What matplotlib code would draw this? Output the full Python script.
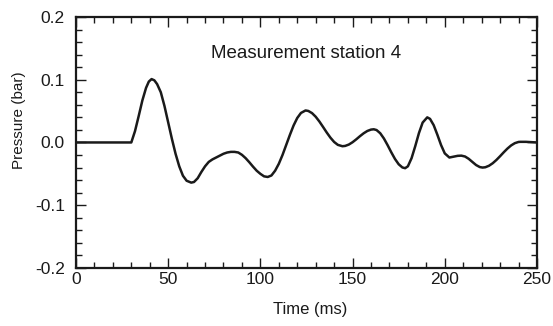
import matplotlib
matplotlib.use("Agg")
import matplotlib.pyplot as plt
from matplotlib.ticker import MultipleLocator, FormatStrFormatter

plt.rcParams['font.family'] = ['Liberation Sans', 'DejaVu Sans']
plt.rcParams['axes.unicode_minus'] = False

time_ms = [0, 10, 20, 30, 32, 34, 36, 38, 39.5, 41, 42.5, 44, 46, 48, 50, 52, 54, 56, 58, 60, 62.5,
           64, 66, 68, 70, 72, 74, 76, 78, 80, 82, 84, 86, 88, 90, 92, 94, 96, 98, 100, 102, 104,
           106, 108, 110, 112, 114, 116, 118, 120, 122, 124.5, 126, 128, 130, 132, 134, 136, 138,
           140, 142, 144.5, 146, 148, 150, 152, 154, 156, 158, 160, 161.5, 163, 165, 167, 169, 171,
           173, 175, 177, 178.5, 180, 182, 184, 186, 188, 190.5, 192, 194, 196, 198, 200, 202.5,
           205, 207, 209, 211, 213, 215, 217, 219, 220.5, 222, 224, 226, 228, 230, 232, 234, 236,
           238, 240, 241, 244, 247, 250]
pressure_bar = [0, 0, 0, 0, 0.018, 0.042, 0.067, 0.087, 0.097, 0.101, 0.099, 0.093, 0.08, 0.058, 0.032,
                0.006, -0.018, -0.038, -0.053, -0.061, -0.064,
                -0.063, -0.057, -0.047, -0.038, -0.031, -0.027, -0.024, -0.021, -0.018, -0.016,
                -0.015, -0.015, -0.016, -0.0197, -0.025, -0.0315, -0.0385, -0.045, -0.05, -0.054,
                -0.055, -0.0526, -0.045, -0.034, -0.02, -0.004, 0.012, 0.027, 0.039, 0.047, 0.051,
                0.0502, 0.0468, 0.041, 0.0334, 0.0247, 0.0158, 0.0076, 0.0008, -0.0038, -0.006,
                -0.0055, -0.0033, 0.0004, 0.005, 0.01, 0.0146, 0.0183, 0.0205, 0.021, 0.0198,
                0.0147, 0.0063, -0.0043, -0.0157, -0.0263, -0.0347, -0.0398, -0.041, -0.038,
                -0.025, -0.0058, 0.015, 0.0317, 0.04, 0.0376, 0.0275, 0.0122, -0.0042, -0.0174,
                -0.024, -0.0225, -0.0213, -0.021, -0.0224, -0.0261, -0.0311, -0.036, -0.0392,
                -0.04, -0.0395, -0.0371, -0.0331, -0.0279, -0.0219, -0.0156, -0.0097, -0.0047,
                -0.0011, 0.0008, 0.001, 0.001, 0.0005, 0.0]

x_label = "Time (ms)"
y_label = "Pressure (bar)"
annotation = "Measurement station 4"

fig = plt.figure(figsize=(5.53, 3.26), dpi=100)
ax = fig.add_axes([0.1374, 0.178, 0.8336, 0.770])
ax.plot(time_ms, pressure_bar, color='#1a1a1a', lw=1.8, solid_joinstyle='round')
ax.set_xlim(0, 250)
ax.set_ylim(-0.2, 0.2)
ax.xaxis.set_major_locator(MultipleLocator(50))
ax.xaxis.set_minor_locator(MultipleLocator(10))
ax.yaxis.set_major_locator(MultipleLocator(0.1))
ax.yaxis.set_minor_locator(MultipleLocator(0.02))
ax.yaxis.set_major_formatter(FormatStrFormatter('%.1f'))
ax.tick_params(which='both', direction='in', top=True, right=True, colors='#1a1a1a', labelsize=12.5)
ax.tick_params(which='major', length=7, width=1.0)
ax.tick_params(which='minor', length=4, width=1.0)
ax.tick_params(axis='x', which='major', pad=3)
ax.tick_params(axis='y', which='major', pad=8)
for s in ax.spines.values():
    s.set_linewidth(1.6)
    s.set_color('#1a1a1a')
ax.set_xlabel(x_label, fontsize=12, color='#1a1a1a')
ax.set_ylabel(y_label, fontsize=11, color='#1a1a1a')
ax.xaxis.set_label_coords(0.508, -0.167)
ax.xaxis.label.set_va('center')
ax.yaxis.set_label_coords(-0.124, 0.59)
ax.yaxis.label.set_va('center')
ax.text(124.7, 0.142, annotation, ha='center', va='center', fontsize=13.5, color='#1a1a1a')
fig.savefig('out.png', dpi=100)
